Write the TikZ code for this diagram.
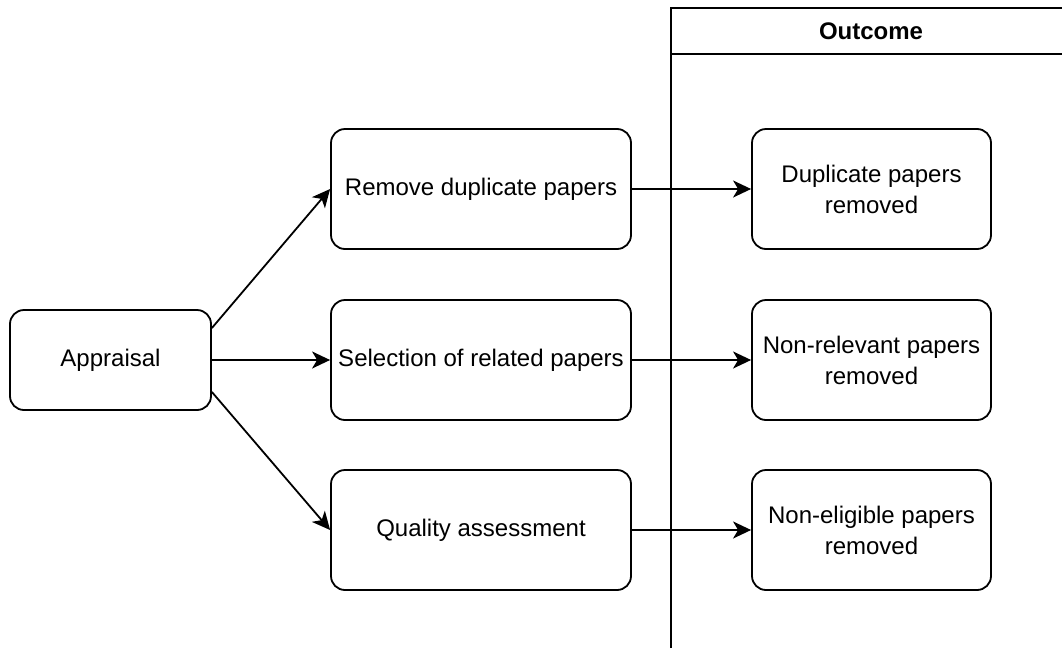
\documentclass[tikz,border=0pt]{standalone}
\usepackage{fontspec}
\setmainfont{Liberation Sans}
\usetikzlibrary{arrows.meta}
\begin{document}
\begin{tikzpicture}[x=1pt,y=-1pt,
  box/.style={draw, line width=1.8pt, rounded corners=14pt, align=center,
    font=\fontsize{24}{31}\selectfont, inner sep=0pt},
  conn/.style={line width=1.8pt, -{Stealth[length=18pt,width=17pt,inset=5pt]}},
  lane/.style={line width=1.8pt}]
\useasboundingbox (0,0) rectangle (1062,648);

% left-hand step
\node[box, minimum width=201pt, minimum height=100pt] (appr) at (110.5,360) {Appraisal};

% appraisal steps
\node[box, minimum width=300pt, minimum height=120pt] (dup) at (481,189) {Remove duplicate papers};
\node[box, minimum width=300pt, minimum height=120pt] (sel) at (481,360) {Selection of related papers};
\node[box, minimum width=300pt, minimum height=120pt] (qual) at (481,530) {Quality assessment};

% outcome lane
\coordinate (laneTL) at (671,8);
\coordinate (laneBL) at (671,648);
\coordinate (laneTR) at (1062,8);
\coordinate (headL) at (671,54);
\coordinate (headR) at (1062,54);
\draw[lane] (laneBL) -- (laneTL) -- (laneTR);
\draw[lane] (headL) -- (headR);
\node[font=\fontsize{24}{28}\selectfont\bfseries] (outc) at (871,31) {Outcome};

% outcomes
\node[box, minimum width=239pt, minimum height=120pt] (odup) at (871.5,189) {Duplicate papers\\removed};
\node[box, minimum width=239pt, minimum height=120pt] (osel) at (871.5,360) {Non-relevant papers\\removed};
\node[box, minimum width=239pt, minimum height=120pt] (oqual) at (871.5,530) {Non-eligible papers\\removed};

% connectors
\draw[conn] ([yshift=32pt]appr.east) -- (dup.west);
\draw[conn] (appr.east) -- (sel.west);
\draw[conn] ([yshift=-32pt]appr.east) -- (qual.west);
\draw[conn] (dup.east) -- (odup.west);
\draw[conn] (sel.east) -- (osel.west);
\draw[conn] (qual.east) -- (oqual.west);
\end{tikzpicture}
\end{document}
